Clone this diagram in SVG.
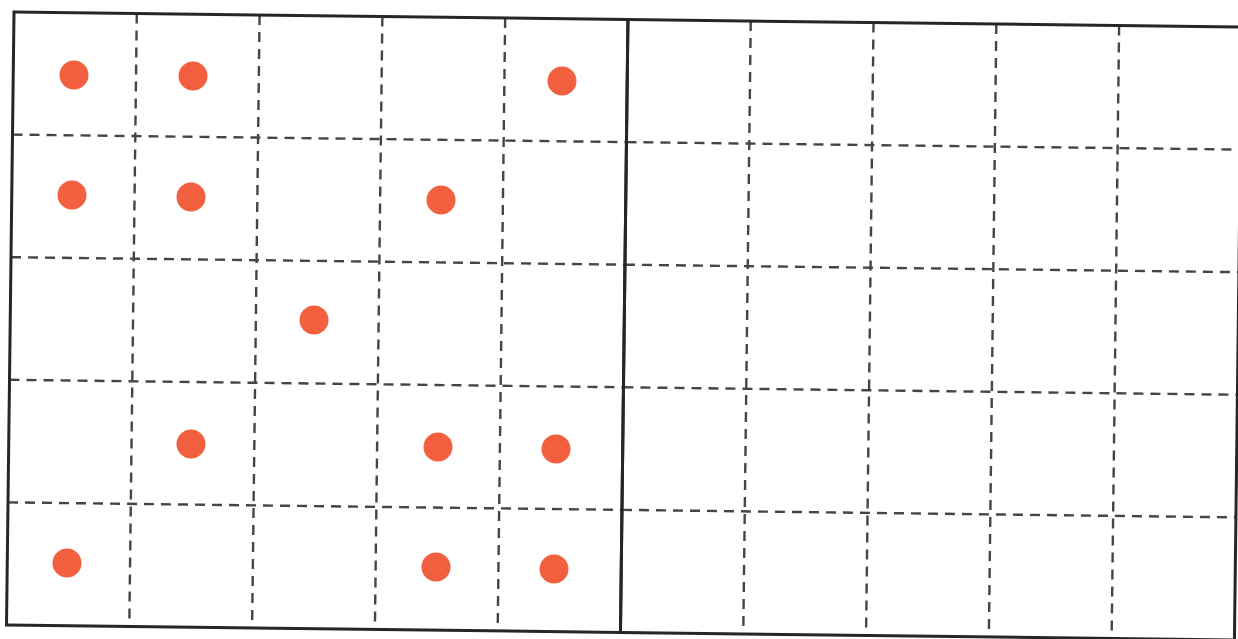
<svg xmlns="http://www.w3.org/2000/svg" width="1238" height="639" viewBox="0 0 1238 639">
  <style>
    .frame { fill: none; stroke: #262626; stroke-width: 3; }
    .grid { fill: none; stroke: #454545; stroke-width: 2.4; stroke-dasharray: 10 7; }
    .dot { fill: #f2603f; }
  </style>
  <rect x="0" y="0" width="1238" height="639" fill="#ffffff"/>
  <g id="grids" transform="rotate(0.7 14 12)">
    <g id="grid-left">
      <line class="grid" x1="136.8" y1="12" x2="136.8" y2="625"/>
      <line class="grid" x1="259.6" y1="12" x2="259.6" y2="625"/>
      <line class="grid" x1="382.4" y1="12" x2="382.4" y2="625"/>
      <line class="grid" x1="505.2" y1="12" x2="505.2" y2="625"/>
      <line class="grid" x1="14" y1="134.6" x2="628" y2="134.6"/>
      <line class="grid" x1="14" y1="257.2" x2="628" y2="257.2"/>
      <line class="grid" x1="14" y1="379.8" x2="628" y2="379.8"/>
      <line class="grid" x1="14" y1="502.4" x2="628" y2="502.4"/>
      <rect class="frame" x="14" y="12" width="614" height="613"/>
    </g>
    <g id="grid-right">
      <line class="grid" x1="750.8" y1="12" x2="750.8" y2="625"/>
      <line class="grid" x1="873.6" y1="12" x2="873.6" y2="625"/>
      <line class="grid" x1="996.4" y1="12" x2="996.4" y2="625"/>
      <line class="grid" x1="1119.2" y1="12" x2="1119.2" y2="625"/>
      <line class="grid" x1="628" y1="134.6" x2="1242" y2="134.6"/>
      <line class="grid" x1="628" y1="257.2" x2="1242" y2="257.2"/>
      <line class="grid" x1="628" y1="379.8" x2="1242" y2="379.8"/>
      <line class="grid" x1="628" y1="502.4" x2="1242" y2="502.4"/>
      <rect class="frame" x="628" y="12" width="614" height="613"/>
    </g>
  </g>
  <g id="dots">
    <circle class="dot" cx="74" cy="75" r="14.5"/>
    <circle class="dot" cx="193" cy="76" r="14.5"/>
    <circle class="dot" cx="562" cy="81" r="14.5"/>
    <circle class="dot" cx="72" cy="195" r="14.5"/>
    <circle class="dot" cx="191" cy="197" r="14.5"/>
    <circle class="dot" cx="441" cy="200" r="14.5"/>
    <circle class="dot" cx="314" cy="320" r="14.5"/>
    <circle class="dot" cx="191" cy="444" r="14.5"/>
    <circle class="dot" cx="438" cy="447" r="14.5"/>
    <circle class="dot" cx="556" cy="449" r="14.5"/>
    <circle class="dot" cx="67" cy="563" r="14.5"/>
    <circle class="dot" cx="436" cy="567" r="14.5"/>
    <circle class="dot" cx="554" cy="569" r="14.5"/>
  </g>
</svg>
